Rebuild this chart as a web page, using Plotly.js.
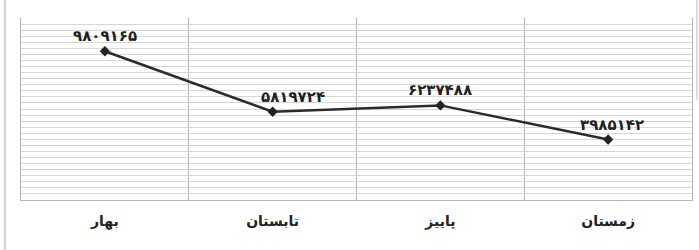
<!DOCTYPE html>
<html>
<head>
<meta charset="utf-8">
<script src="https://cdn.plot.ly/plotly-3.0.1.min.js"></script>
<style>html,body{margin:0;padding:0;background:#fff;}#chart{width:699px;height:250px;}</style>
</head>
<body>
<div id="chart"></div>
<script>
const seasons = ["بهار", "تابستان", "پاییز", "زمستان"];
const values = [9809165, 5819724, 6237488, 3985142];

const faDigits = "۰۱۲۳۴۵۶۷۸۹";
const toFa = n => String(n).replace(/[0-9]/g, d => faDigits[+d]);
const labels = values.map(toFa);

const trace = {
  x: seasons,
  y: values,
  type: "scatter",
  mode: "lines+markers",
  line: {color: "#2b2b2b", width: 2.5},
  marker: {symbol: "diamond", size: 8, color: "#222"},
  cliponaxis: false,
  hoverinfo: "none"
};

// label placement tweak: the summer label sits a little to the right, clear of the line
const annotations = seasons.map((s, i) => ({
  x: s, y: values[i], xref: "x", yref: "y",
  text: labels[i], showarrow: false,
  yanchor: "bottom", yshift: 4,
  xshift: (i === 1 ? 20 : (i === 3 ? 4 : 0)),
  font: {family: "DejaVu Sans", size: 15, color: "#222", weight: "bold"}
}));

const layout = {
  width: 699, height: 250,
  margin: {l: 21, r: 7, t: 18, b: 50},
  paper_bgcolor: "#fff", plot_bgcolor: "#fff",
  showlegend: false,
  xaxis: {
    type: "category",
    range: [-0.5, 3.5],
    tickson: "boundaries",
    showgrid: true, gridcolor: "#b4b4b4", gridwidth: 1,
    showline: true, linecolor: "#b4b4b4", linewidth: 1,
    ticks: "", ticklen: 0,
    ticklabelstandoff: 8,
    tickfont: {family: "DejaVu Sans", size: 14, color: "#222", weight: "bold"},
    fixedrange: true
  },
  yaxis: {
    range: [0, 12000000],
    dtick: 400000,
    showticklabels: false,
    showgrid: true, gridcolor: "#d6d6d6", gridwidth: 1,
    zeroline: false,
    showline: true, mirror: true, linecolor: "#b4b4b4", linewidth: 1,
    ticks: "",
    fixedrange: true
  },
  annotations: annotations,
  shapes: [
    {type: "line", xref: "paper", yref: "paper", x0: -0.024, x1: -0.024, y0: -0.28, y1: 1.1,
     line: {color: "#d0d0d0", width: 2}},
    {type: "line", xref: "paper", yref: "paper", x0: 1.0075, x1: 1.0075, y0: 1.1, y1: 0.55,
     line: {color: "#dddddd", width: 2}}
  ]
};

Plotly.newPlot("chart", [trace], layout, {displayModeBar: false, staticPlot: true});
</script>
</body>
</html>
